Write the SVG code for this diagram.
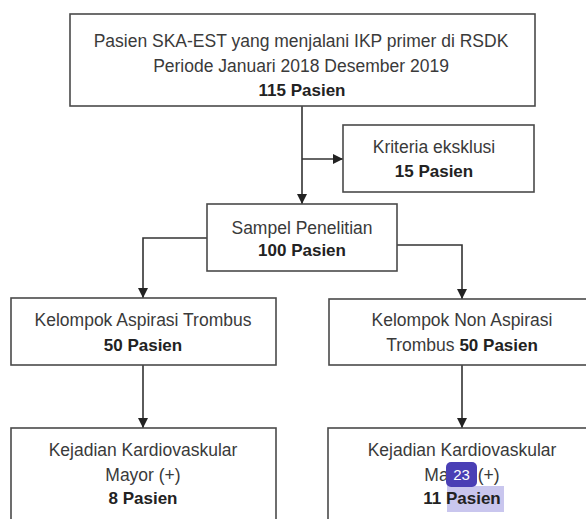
<svg xmlns="http://www.w3.org/2000/svg" width="586" height="519" viewBox="0 0 586 519">
<defs>
<marker id="arr" viewBox="0 0 10 10" refX="10" refY="5" markerWidth="10" markerHeight="10" markerUnits="userSpaceOnUse" orient="auto">
<path d="M0,0 L10,5 L0,10 Z" fill="#222"/>
</marker>
</defs>
<style>
.box{fill:#fff;stroke:#4a4a4a;stroke-width:1.6}
.t{font-family:"Liberation Sans",Arial,sans-serif;font-size:17.5px;fill:#3a3a3a;text-anchor:middle}
.b{font-weight:bold;fill:#222;font-size:17px}
.c{fill:none;stroke:#333;stroke-width:1.6}
</style>
<rect width="586" height="519" fill="#fff"/>
<g id="connectors">
<line class="c" x1="302" y1="106" x2="302" y2="204" marker-end="url(#arr)"/>
<line class="c" x1="302" y1="159" x2="343" y2="159" marker-end="url(#arr)"/>
<polyline class="c" points="207,238 143,238 143,298" marker-end="url(#arr)"/>
<polyline class="c" points="397,245 462,245 462,299" marker-end="url(#arr)"/>
<line class="c" x1="143" y1="365" x2="143" y2="428" marker-end="url(#arr)"/>
<line class="c" x1="462" y1="365" x2="462" y2="428" marker-end="url(#arr)"/>
</g>
<g id="n-top">
<rect class="box" x="70" y="14" width="465" height="92"/>
<text class="t" x="301" y="47">Pasien SKA-EST yang menjalani IKP primer di RSDK</text>
<text class="t" x="301" y="72">Periode Januari 2018 Desember 2019</text>
<text class="t b" x="302" y="96">115 Pasien</text>
</g>
<g id="n-eksklusi">
<rect class="box" x="343" y="125" width="191" height="67"/>
<text class="t" x="434" y="153">Kriteria eksklusi</text>
<text class="t b" x="434" y="177">15 Pasien</text>
</g>
<g id="n-sampel">
<rect class="box" x="207" y="204" width="190" height="67"/>
<text class="t" x="302" y="234">Sampel Penelitian</text>
<text class="t b" x="302" y="256">100 Pasien</text>
</g>
<g id="n-aspirasi">
<rect class="box" x="11" y="298" width="265" height="67"/>
<text class="t" x="143" y="326">Kelompok Aspirasi Trombus</text>
<text class="t b" x="143" y="351">50 Pasien</text>
</g>
<g id="n-nonaspirasi">
<rect class="box" x="329" y="299" width="270" height="66"/>
<text class="t" x="462" y="326">Kelompok Non Aspirasi</text>
<text class="t" x="462" y="351">Trombus <tspan class="b">50 Pasien</tspan></text>
</g>
<g id="n-mace-a">
<rect class="box" x="11" y="428" width="265" height="100"/>
<text class="t" x="143" y="456">Kejadian Kardiovaskular</text>
<text class="t" x="143" y="481">Mayor (+)</text>
<text class="t b" x="143" y="504">8 Pasien</text>
</g>
<g id="n-mace-b">
<rect class="box" x="328" y="428" width="270" height="100"/>
<text class="t" x="462" y="456">Kejadian Kardiovaskular</text>
<text class="t" x="462" y="481">Mayor (+)</text>
<rect x="447" y="486" width="57" height="26" fill="#c9c6ee"/>
<text class="t b" x="462" y="504">11 Pasien</text>
<rect x="446" y="462" width="31" height="25" rx="5" fill="#4a3fb5"/>
<text x="461.5" y="480" font-family="Liberation Sans,Arial,sans-serif" font-size="15px" fill="#fff" text-anchor="middle">23</text>
</g>
</svg>
